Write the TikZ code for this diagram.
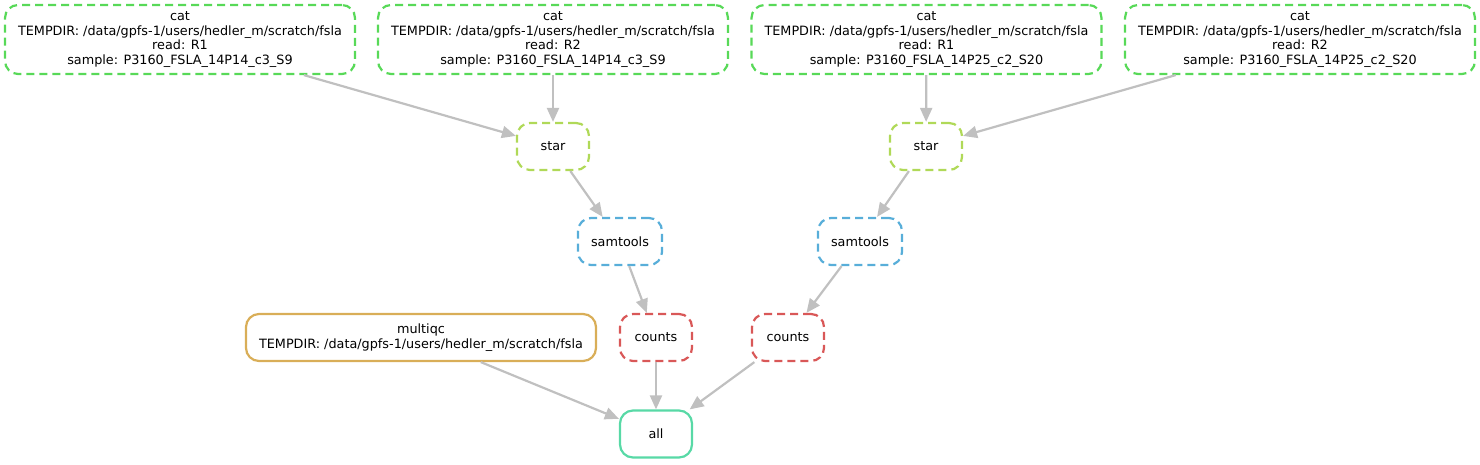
\documentclass[tikz,border=0pt]{standalone}
\usepackage{fontspec}
\setmainfont{DejaVu Sans}
\usetikzlibrary{arrows.meta, positioning}

\definecolor{catcol}{RGB}{88,217,88}
\definecolor{starcol}{RGB}{176,217,88}
\definecolor{samcol}{RGB}{88,174,217}
\definecolor{countcol}{RGB}{217,88,88}
\definecolor{qccol}{RGB}{217,174,88}
\definecolor{allcol}{RGB}{88,217,166}
\definecolor{linkcol}{RGB}{192,192,192}

\begin{document}
\begin{tikzpicture}[x=1pt, y=-1pt,
  job/.style={draw, rounded corners=13pt, line width=2.2pt, align=center,
    inner sep=0pt, minimum height=47pt, minimum width=72pt,
    font=\fontsize{12.8}{14.7}\selectfont},
  wild/.style={job, dash pattern=on 8pt off 5pt},
  catjob/.style={wild, draw=catcol, minimum width=350pt, minimum height=69pt},
  link/.style={draw=linkcol, line width=2.2pt,
    -{Triangle[length=14pt, width=12pt, fill=linkcol]}}]
  \useasboundingbox (0,0) rectangle (1480,464);

  \node[catjob] (cat1) at (180,39.5)
    {cat\\TEMPDIR: /data/gpfs-1/users/hedler\_m/scratch/fsla\\read: R1\\sample: P3160\_FSLA\_14P14\_c3\_S9};
  \node[catjob] (cat2) at (553,39.5)
    {cat\\TEMPDIR: /data/gpfs-1/users/hedler\_m/scratch/fsla\\read: R2\\sample: P3160\_FSLA\_14P14\_c3\_S9};
  \node[catjob] (cat3) at (926.5,39.5)
    {cat\\TEMPDIR: /data/gpfs-1/users/hedler\_m/scratch/fsla\\read: R1\\sample: P3160\_FSLA\_14P25\_c2\_S20};
  \node[catjob] (cat4) at (1300,39.5)
    {cat\\TEMPDIR: /data/gpfs-1/users/hedler\_m/scratch/fsla\\read: R2\\sample: P3160\_FSLA\_14P25\_c2\_S20};

  \node[wild, draw=starcol] (star1) at (553,146.5) {star};
  \node[wild, draw=starcol] (star2) at (926,146.5) {star};

  \node[wild, draw=samcol, minimum width=84pt] (sam1) at (620,241.5) {samtools};
  \node[wild, draw=samcol, minimum width=84pt] (sam2) at (860,241.5) {samtools};

  \node[job, draw=qccol, minimum width=350pt] (qc) at (421,337.5)
    {multiqc\\TEMPDIR: /data/gpfs-1/users/hedler\_m/scratch/fsla};
  \node[wild, draw=countcol] (counts1) at (656,337.5) {counts};
  \node[wild, draw=countcol] (counts2) at (788,337.5) {counts};

  \node[job, draw=allcol] (all) at (656,434) {all};

  \draw
  (cat1) edge[link] (star1)
  (cat2) edge[link] (star1)
  (cat3) edge[link] (star2)
  (cat4) edge[link] (star2)
  (star1) edge[link] (sam1)
  (star2) edge[link] (sam2)
  (sam1) edge[link] (counts1)
  (sam2) edge[link] (counts2)
  (qc) edge[link] (all)
  (counts1) edge[link] (all)
  (counts2) edge[link] (all);
\end{tikzpicture}
\end{document}
